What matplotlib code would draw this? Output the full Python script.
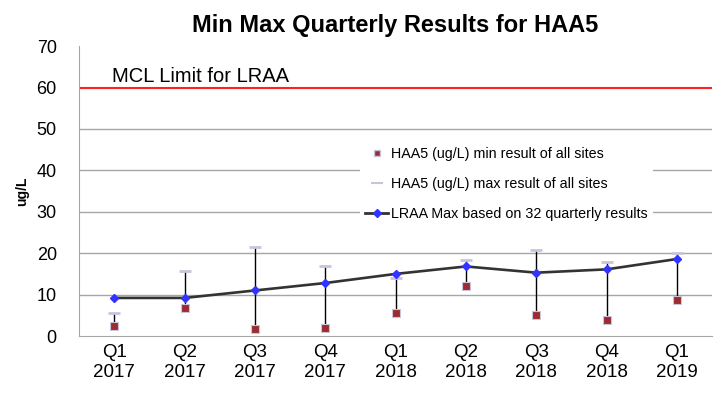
import matplotlib
matplotlib.use("Agg")
import matplotlib.pyplot as plt
from matplotlib.lines import Line2D

plt.rcParams['font.family'] = ['Liberation Sans', 'DejaVu Sans']

quarters = ['Q1\n2017', 'Q2\n2017', 'Q3\n2017', 'Q4\n2017', 'Q1\n2018',
            'Q2\n2018', 'Q3\n2018', 'Q4\n2018', 'Q1\n2019']
haa5_min = [2.5, 6.8, 1.7, 1.9, 5.6, 12.1, 5.2, 3.9, 8.6]
haa5_max = [5.6, 15.7, 21.4, 16.8, 14.0, 18.4, 20.8, 17.9, 20.0]
lraa_max = [9.2, 9.2, 11.0, 12.8, 15.0, 16.8, 15.3, 16.1, 18.6]
mcl = 60

x = range(len(quarters))

fig = plt.figure(figsize=(7.22, 4.01), dpi=100)
ax = fig.add_axes([0.1094, 0.162, 0.877, 0.723])

# gridlines
for g in [10, 20, 30, 40, 50]:
    ax.axhline(g, color='#a6a6a6', lw=1, zorder=0)
ax.axhline(mcl, color='#ff2020', lw=1.5, zorder=1)
ax.text(-0.03, 62.7, 'MCL Limit for LRAA', fontsize=14.5, va='center', ha='left')

# high-low lines
ax.vlines(x, haa5_min, haa5_max, color='black', lw=1, zorder=2)
ax.plot(x, haa5_max, ls='none', marker='_', ms=9, mew=2, color='#c9c3dc', zorder=3)
ax.plot(x, haa5_min, ls='none', marker='s', ms=5.5, mfc='#9b2d30', mec='#c9c3dc',
        mew=0.8, zorder=3)
ax.plot(x, lraa_max, color='#333333', lw=1.9, marker='D', ms=4.5, mfc='#3333ff',
        mec='#3333ff', zorder=4)

ax.set_xlim(-0.5, len(quarters) - 0.5)
ax.set_ylim(0, 70)
ax.set_yticks(range(0, 71, 10))
ax.set_xticks(list(x))
ax.set_xticklabels(quarters)
ax.tick_params(axis='y', length=0, pad=16, labelsize=13)
ax.tick_params(axis='x', length=0, pad=6, labelsize=13.5)
for s in ['top', 'right']:
    ax.spines[s].set_visible(False)
for s in ['left', 'bottom']:
    ax.spines[s].set_color('#a6a6a6')
ax.set_ylabel('ug/L', fontsize=10, fontweight='bold', labelpad=5)
ax.set_title('Min Max Quarterly Results for HAA5', fontsize=17, fontweight='bold', pad=10)

handles = [
    Line2D([], [], ls='none', marker='s', ms=4, mfc='#9b2d30', mec='#c9c3dc'),
    Line2D([], [], ls='none', marker='_', ms=9, mew=1.5, color='#c9c3dc'),
    Line2D([], [], color='#333333', lw=2, marker='D', ms=4, mfc='#3333ff', mec='#3333ff'),
]
labels = ['HAA5 (ug/L) min result of all sites',
          'HAA5 (ug/L) max result of all sites',
          'LRAA Max based on 32 quarterly results']
leg = ax.legend(handles, labels, loc='upper left', bbox_to_anchor=(0.432, 0.695),
                frameon=True, fontsize=10.3, labelspacing=1.1, handlelength=1.6,
                handletextpad=0.2, borderpad=0.4)
leg.get_frame().set_edgecolor('none')
leg.get_frame().set_facecolor('white')
leg.get_frame().set_alpha(1)
leg.set_zorder(5)

fig.savefig('out.png', dpi=100)
